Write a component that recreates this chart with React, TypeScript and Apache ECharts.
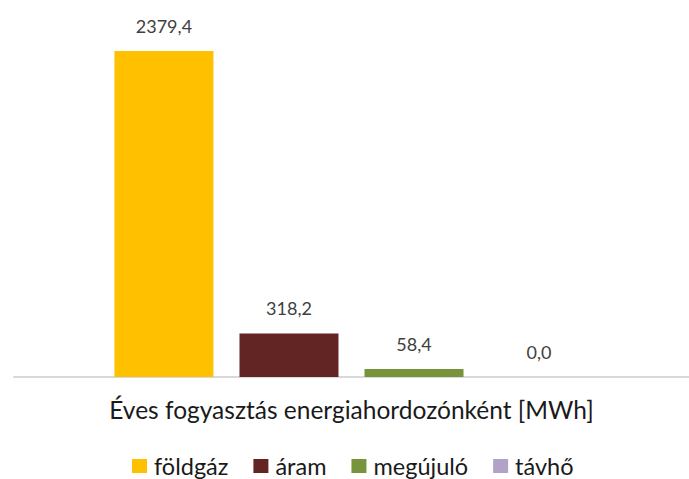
import React, { useEffect, useRef } from "react";
import * as echarts from "echarts";

const categories = [""];
const seriesNames = ["földgáz", "áram", "megújuló", "távhő"];
const seriesValues = [2379.4, 318.2, 58.4, 0.0];
const seriesColors = ["#FFC000", "#632523", "#77933C", "#B3A2C7"];
const axisTitle = "Éves fogyasztás energiahordozónként [MWh]";

export default function App() {
  const ref = useRef<HTMLDivElement>(null);
  useEffect(() => {
    if (!ref.current) return;
    const chart = echarts.init(ref.current, null, { renderer: "svg" });
    const font = "Lato, 'Open Sans', sans-serif";
    chart.setOption({
      animation: false,
      textStyle: { fontFamily: font },
      grid: { left: 14, width: 690, top: 34.5, height: 342.5 },
      legend: {
        data: seriesNames,
        left: 127,
        top: 449,
        icon: "rect",
        itemWidth: 15,
        itemHeight: 14,
        itemGap: 25,
        textStyle: { fontSize: 23.5, color: "#1a1a1a", fontFamily: font, padding: [0, 0, 0, 2] },
      },
      xAxis: {
        type: "category",
        data: categories,
        axisLine: { lineStyle: { color: "#d9d9d9", width: 2 } },
        axisTick: { show: false },
        axisLabel: { show: false },
        name: axisTitle,
        nameLocation: "middle",
        nameGap: 20,
        nameTextStyle: { fontSize: 24.5, color: "#1a1a1a", fontFamily: font, verticalAlign: "top" },
      },
      yAxis: {
        type: "value",
        min: 0,
        max: 2500,
        show: false,
        splitLine: { show: false },
      },
      series: seriesNames.map((n, i) => ({
        name: n,
        type: "bar",
        data: [seriesValues[i]],
        barWidth: 99,
        barGap: "26.3%",
        itemStyle: { color: seriesColors[i] },
        label: {
          show: true,
          position: "top",
          distance: 16,
          fontSize: 18,
          color: "#404040",
          fontFamily: font,
          formatter: (p: any) => p.value.toFixed(1).replace(".", ","),
        },
      })),
    });
    return () => chart.dispose();
  }, []);
  return (
    <div
      ref={ref}
      style={{ position: "absolute", left: 0, top: 0, width: 689, height: 479 }}
    />
  );
}
